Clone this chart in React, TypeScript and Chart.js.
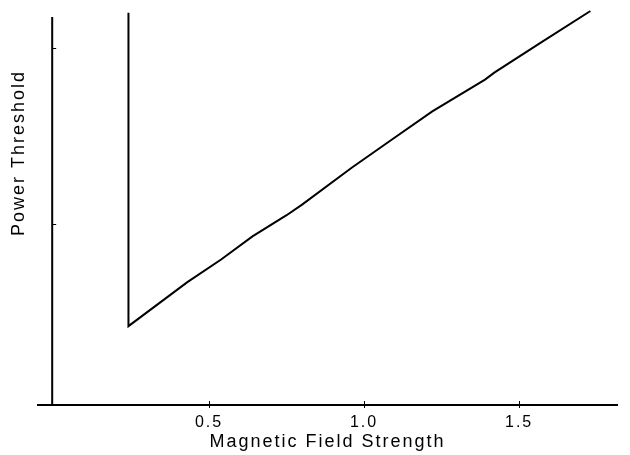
import React, { useEffect, useRef } from "react";
import { Chart, registerables } from "chart.js";

Chart.register(...registerables);

// Field strength (x) and power threshold (y, arbitrary units) along the curve
const fieldStrength = [0.24, 0.24, 0.43, 0.54, 0.64, 0.75, 0.8, 0.96, 1.09, 1.22, 1.39, 1.42, 1.57, 1.73];
const powerThreshold = [2.2, 0.42, 0.67, 0.8, 0.93, 1.05, 1.11, 1.32, 1.48, 1.64, 1.82, 1.86, 2.03, 2.21];

const xTickValues = [0.5, 1.0, 1.5];
const yTickValues = [1, 2];
const xTitle = "Magnetic Field Strength";
const yTitle = "Power Threshold";

const FONT = "'Liberation Sans', Arial, Helvetica, sans-serif";

export default function App() {
  const ref = useRef<HTMLCanvasElement | null>(null);

  useEffect(() => {
    if (!ref.current) return;
    const setSpacing = (chart: any) => {
      try {
        (chart.ctx as any).letterSpacing = "2px";
      } catch (e) {}
    };
    const axesPlugin = {
      id: "axesPlugin",
      beforeLayout(chart: any) {
        setSpacing(chart);
      },
      beforeDraw(chart: any) {
        setSpacing(chart);
      },
      afterDraw(chart: any) {
        const ctx = chart.ctx;
        const xs = chart.scales.x;
        const ys = chart.scales.y;
        const area = chart.chartArea;
        const yAxisX = xs.getPixelForValue(-0.006);
        ctx.save();
        ctx.strokeStyle = "#000";
        ctx.lineCap = "butt";
        // x axis line
        ctx.lineWidth = 2;
        ctx.beginPath();
        ctx.moveTo(area.left, area.bottom);
        ctx.lineTo(area.right, area.bottom);
        ctx.stroke();
        // y axis line
        ctx.beginPath();
        ctx.moveTo(yAxisX, area.bottom);
        ctx.lineTo(yAxisX, area.top);
        ctx.stroke();
        // x ticks
        ctx.lineWidth = 1;
        xTickValues.forEach((v) => {
          const px = Math.round(xs.getPixelForValue(v)) + 0.5;
          ctx.beginPath();
          ctx.moveTo(px, area.bottom - 4);
          ctx.lineTo(px, area.bottom + 3);
          ctx.stroke();
        });
        // y ticks (inward)
        yTickValues.forEach((v) => {
          const py = Math.round(ys.getPixelForValue(v)) + 0.5;
          ctx.beginPath();
          ctx.moveTo(yAxisX, py);
          ctx.lineTo(yAxisX + 4, py);
          ctx.stroke();
        });
        // y title
        ctx.letterSpacing = "2px";
        ctx.fillStyle = "#000";
        ctx.font = `18px ${FONT}`;
        ctx.textAlign = "center";
        ctx.textBaseline = "middle";
        ctx.translate(19, 153);
        ctx.rotate(-Math.PI / 2);
        ctx.fillText(yTitle, 0, 0);
        ctx.restore();
      },
    };

    const chart = new Chart(ref.current, {
      type: "scatter",
      data: {
        datasets: [
          {
            data: fieldStrength.map((x, i) => ({ x, y: powerThreshold[i] })),
            showLine: true,
            borderColor: "#000",
            borderWidth: 2,
            pointRadius: 0,
            tension: 0,
            clip: false as any,
          },
        ],
      },
      options: {
        responsive: false,
        animation: false,
        layout: { padding: { left: 37, right: 12, top: 17, bottom: 2 } },
        plugins: { legend: { display: false }, tooltip: { enabled: false } },
        scales: {
          x: {
            type: "linear",
            min: -0.055,
            max: 1.819,
            grid: { display: false },
            border: { display: false },
            afterBuildTicks: (scale: any) => {
              scale.ticks = xTickValues.map((v) => ({ value: v }));
            },
            afterFit: (scale: any) => {
              scale.height = 48;
            },
            ticks: {
              color: "#000",
              padding: 0,
              font: { family: FONT, size: 16 },
              callback: (v: any) => Number(v).toFixed(1),
              maxRotation: 0,
            },
            title: {
              display: true,
              text: xTitle,
              color: "#000",
              font: { family: FONT, size: 18 },
              padding: { top: 0, bottom: 0 },
            },
          },
          y: {
            type: "linear",
            display: false,
            min: -0.028,
            max: 2.176,
          },
        },
      },
      plugins: [axesPlugin],
    });
    return () => chart.destroy();
  }, []);

  return (
    <div style={{ position: "absolute", left: 0, top: 0, width: 630, height: 455, background: "#fff" }}>
      <canvas ref={ref} width={630} height={455} style={{ display: "block" }} />
    </div>
  );
}
